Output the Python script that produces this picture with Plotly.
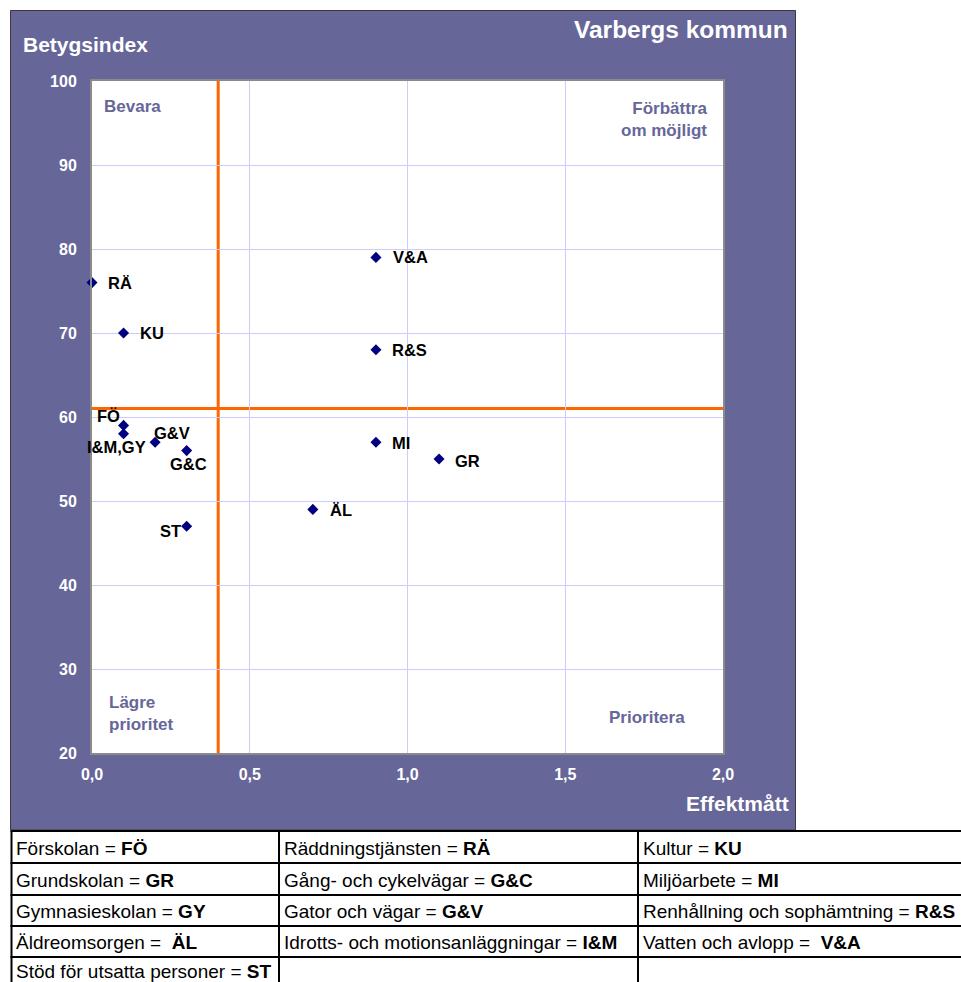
import plotly.graph_objects as go

# ---------------- data ----------------
CODES = ["RÄ", "KU", "V&A", "R&S", "FÖ", "I&M,GY", "G&V", "G&C", "ST", "MI", "GR", "ÄL"]
EFFEKT = [0.0, 0.1, 0.9, 0.9, 0.1, 0.1, 0.2, 0.3, 0.3, 0.9, 1.1, 0.7]
BETYG = [76, 70, 79, 68, 59, 58, 57, 56, 47, 57, 55, 49]

X_THRESHOLD = 0.4
Y_THRESHOLD = 61

X_TICKS = [0.0, 0.5, 1.0, 1.5, 2.0]
Y_TICKS = [20, 30, 40, 50, 60, 70, 80, 90, 100]

TITLE = "Varbergs kommun"
Y_TITLE = "Betygsindex"
X_TITLE = "Effektmått"

TABLE_COL1 = [("Förskolan = ", "FÖ"), ("Grundskolan = ", "GR"), ("Gymnasieskolan = ", "GY"),
              ("Äldreomsorgen = \u00a0", "ÄL"), ("Stöd för utsatta personer = ", "ST")]
TABLE_COL2 = [("Räddningstjänsten = ", "RÄ"), ("Gång- och cykelvägar = ", "G&C"),
              ("Gator och vägar = ", "G&V"), ("Idrotts- och motionsanläggningar = ", "I&M"), ("", "")]
TABLE_COL3 = [("Kultur = ", "KU"), ("Miljöarbete = ", "MI"), ("Renhållning och sophämtning = ", "R&S"),
              ("Vatten och avlopp = \u00a0", "V&A"), ("", "")]

# ---------------- styling / geometry ----------------
W, H = 961, 982
PL, PR, PT, PB = 92, 723, 81, 753   # plot area in pixels
FRAME = "#666699"
FONT = "Liberation Sans, Arial, sans-serif"

# label placement per point: (xanchor, xshift, yshift)
LABEL_POS = {
    "RÄ": ("left", 14, 0), "KU": ("left", 14, 0), "V&A": ("left", 15, 0), "R&S": ("left", 14, 0),
    "FÖ": ("right", -2, 9), "I&M,GY": ("right", 24, -13), "G&V": ("left", -3, 9),
    "G&C": ("center", 2, -13), "ST": ("right", -4, -5), "MI": ("left", 14, -1),
    "GR": ("left", 14, -2), "ÄL": ("left", 15, -1),
}


def px(x):
    return (x - PL) / (PR - PL)


def py(y):
    return (PB - y) / (PB - PT)


def esc(s):
    return s.replace("&", "&amp;")


fig = go.Figure()
fig.add_trace(go.Scatter(
    x=EFFEKT, y=BETYG, mode="markers",
    marker=dict(symbol="diamond", size=8.5, color="#000080"),
    cliponaxis=False, hoverinfo="skip", showlegend=False,
))

annotations = []
for code, xv, yv in zip(CODES, EFFEKT, BETYG):
    anc, xs, ys = LABEL_POS[code]
    annotations.append(dict(
        x=xv, y=yv, xref="x", yref="y", text="<b>" + esc(code) + "</b>", showarrow=False,
        xanchor=anc, yanchor="middle", xshift=xs, yshift=ys,
        font=dict(family=FONT, size=16.5, color="black"),
    ))

# titles
annotations.append(dict(x=px(790), y=py(29), xref="paper", yref="paper", text="<b>" + TITLE + "</b>",
                        showarrow=False, xanchor="right", yanchor="middle",
                        font=dict(family=FONT, size=24.5, color="white")))
annotations.append(dict(x=px(21), y=py(44), xref="paper", yref="paper", text="<b>" + Y_TITLE + "</b>",
                        showarrow=False, xanchor="left", yanchor="middle",
                        font=dict(family=FONT, size=21, color="white")))
annotations.append(dict(x=px(791), y=py(803), xref="paper", yref="paper", text="<b>" + X_TITLE + "</b>",
                        showarrow=False, xanchor="right", yanchor="middle",
                        font=dict(family=FONT, size=21, color="white")))

# quadrant labels
qfont = dict(family=FONT, size=17, color=FRAME)
annotations += [
    dict(x=px(102), y=py(107), text="<b>Bevara</b>", xanchor="left", align="left"),
    dict(x=px(709), y=py(119), text="<b>Förbättra<br>om möjligt</b>", xanchor="right", align="right"),
    dict(x=px(107), y=py(713), text="<b>Lägre<br>prioritet</b>", xanchor="left", align="left"),
    dict(x=px(647), y=py(717), text="<b>Prioritera</b>", xanchor="center", align="center"),
]
for a in annotations[-4:]:
    a.update(xref="paper", yref="paper", showarrow=False, yanchor="middle", font=qfont)

shapes = []
# purple frame and white plot area
shapes.append(dict(type="rect", xref="paper", yref="paper", x0=px(10.5), x1=px(795.5), y0=py(830), y1=py(10.5),
                   fillcolor=FRAME, line=dict(color="#3a3a3a", width=1), layer="below"))
shapes.append(dict(type="rect", xref="paper", yref="paper", x0=0, x1=1, y0=0, y1=1,
                   fillcolor="white", line=dict(width=0), layer="below"))
# threshold lines
shapes.append(dict(type="line", xref="x", yref="paper", x0=X_THRESHOLD, x1=X_THRESHOLD, y0=0, y1=1,
                   line=dict(color="#FF6600", width=3), layer="below"))
shapes.append(dict(type="line", xref="paper", yref="y", x0=0, x1=1, y0=Y_THRESHOLD, y1=Y_THRESHOLD,
                   line=dict(color="#FF6600", width=3), layer="below"))

# table grid
ROW_LINES = [831, 863, 895, 926, 957]
COL_LINES = [11.5, 279, 638]
for yl in ROW_LINES:
    shapes.append(dict(type="line", xref="paper", yref="paper", x0=px(10.5), x1=px(961), y0=py(yl), y1=py(yl),
                       line=dict(color="black", width=2)))
for xl in COL_LINES:
    shapes.append(dict(type="line", xref="paper", yref="paper", x0=px(xl), x1=px(xl), y0=py(831), y1=py(990),
                       line=dict(color="black", width=2)))

row_centers = [847, 879, 910.5, 941.5, 970]
for col_x, col in zip([14, 282, 641], [TABLE_COL1, TABLE_COL2, TABLE_COL3]):
    for yc, (name, code) in zip(row_centers, col):
        if not name:
            continue
        annotations.append(dict(
            x=px(col_x), y=py(yc + 1), xref="paper", yref="paper",
            text=esc(name) + "<b>" + esc(code) + "</b>", showarrow=False,
            xanchor="left", yanchor="middle", font=dict(family=FONT, size=19, color="black"),
        ))

fig.update_layout(
    width=W, height=H,
    margin=dict(l=PL, r=W - PR, t=PT, b=H - PB, pad=0),
    paper_bgcolor="white", plot_bgcolor="white",
    separators=", ",
    showlegend=False,
    annotations=annotations, shapes=shapes,
    xaxis=dict(range=[0, 2], tickvals=X_TICKS, tickformat=".1f", showgrid=True, gridcolor="#ccccff",
               gridwidth=1, zeroline=False, showline=True, mirror=True, linecolor="#8a8a8a", linewidth=2,
               ticks="", ticklabelstandoff=6,
               tickfont=dict(family=FONT, size=16, color="white", weight="bold")),
    yaxis=dict(range=[20, 100], tickvals=Y_TICKS, showgrid=True, gridcolor="#ccccff",
               gridwidth=1, zeroline=False, showline=True, mirror=True, linecolor="#8a8a8a", linewidth=2,
               ticks="", ticklabelstandoff=10,
               tickfont=dict(family=FONT, size=16, color="white", weight="bold")),
)

fig.write_html("out.html", config={"displayModeBar": False},
               post_script="document.body.style.margin='0';document.body.style.overflow='hidden';")
